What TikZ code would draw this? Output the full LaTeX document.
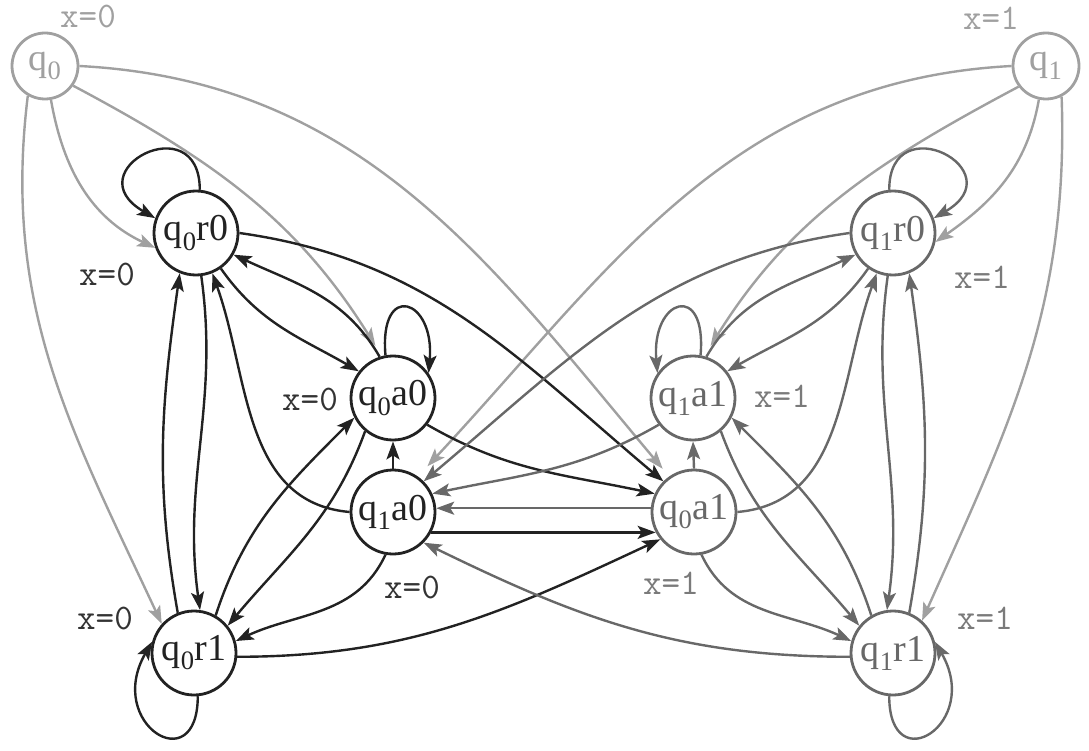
\documentclass[tikz,border=0pt]{standalone}
\usepackage{fontspec}
\usetikzlibrary{arrows.meta}
\newfontfamily\nodefont{Liberation Serif}
\definecolor{lg}{HTML}{A0A0A0}
\definecolor{dk}{HTML}{222222}
\definecolor{mg}{HTML}{686868}
\definecolor{lbl}{HTML}{333333}
\definecolor{rlbl}{HTML}{7A7A7A}
\begin{document}
\begin{tikzpicture}[x=1pt,y=1pt,
  st/.style={circle, draw, line width=2.8pt, minimum size=84pt, inner sep=0pt, font={\nodefont\fontsize{38}{40}\selectfont}},
  ini/.style={st, minimum size=66pt, draw=lg, text=lg},
  lft/.style={st, draw=dk, text=dk},
  rgt/.style={st, draw=mg, text=mg},
  arr/.style={line width=2.4pt, -{Stealth[length=18pt,width=13pt,inset=4pt]}},
  ea/.style={arr, draw=dk},
  eb/.style={arr, draw=mg},
  eg/.style={arr, draw=lg},
  lab/.style={font={\ttfamily\fontsize{36}{36}\selectfont}, inner sep=0pt}
]
\path[use as bounding box] (0,0) rectangle (1089,-751);

% nodes
\node[ini] (S0) at (45,-66) {q\textsubscript{0}};
\node[ini] (S1) at (1046,-66) {q\textsubscript{1}};
\node[lft] (A) at (196,-233) {q\textsubscript{0}r0};
\node[lft] (B) at (393,-398) {q\textsubscript{0}a0};
\node[lft] (C) at (393,-512) {q\textsubscript{1}a0};
\node[lft] (D) at (194,-653) {q\textsubscript{0}r1};
\node[rgt] (E) at (893,-233) {q\textsubscript{1}r0};
\node[rgt] (F) at (693,-398) {q\textsubscript{1}a1};
\node[rgt] (G) at (694,-512) {q\textsubscript{0}a1};
\node[rgt] (H) at (893,-653) {q\textsubscript{1}r1};

% labels
\node[lab, text=lg] (l1) at (88,-17) {x=0};
\node[lab, text=lbl] (l2) at (107,-275) {x=0};
\node[lab, text=lbl] (l3) at (310,-399) {x=0};
\node[lab, text=lbl] (l4) at (412,-587) {x=0};
\node[lab, text=lbl] (l5) at (105,-618) {x=0};
\node[lab, text=lg] (l6) at (991,-18) {x=1};
\node[lab, text=rlbl] (l7) at (982,-277) {x=1};
\node[lab, text=rlbl] (l8) at (782,-396) {x=1};
\node[lab, text=rlbl] (l9) at (671,-583) {x=1};
\node[lab, text=rlbl] (l10) at (985,-618) {x=1};

% initial edges (light gray)
\draw[eg] (S0.-80) to[out=-80,in=155] (A.200);
\draw[eg] (S0.-120) to[out=-97,in=115] (D.138);
\draw[eg, shorten >=12pt] (S0.-35) to[out=-28,in=122] (B.105);
\draw[eg, shorten >=10pt] (S0.0) to[out=-3,in=130] (G.125);
\draw[eg] (S1.-102) to[out=-100,in=35] (E.-12);
\draw[eg] (S1.-63) to[out=-88,in=66] (H.48);
\draw[eg, shorten >=12pt] (S1.-143) to[out=-152,in=58] (F.75);
\draw[eg, shorten >=14pt] (S1.180) to[out=183,in=47] (C.55);

% left side (black)
\draw[ea] (A.85) .. controls +(90:85) and +(150:95) .. (A.160);
\draw[ea] (B.100) .. controls +(95:75) and +(85:75) .. (B.35);
\draw[ea] (D.-85) .. controls +(-90:85) and +(-120:95) .. (D.165);
\draw[ea] (A.-83) to[out=-82,in=98] (D.82);
\draw[ea] (D.112) to[out=100,in=-98] (A.-112);
\draw[ea] (C.180) to[out=175,in=-70] (A.-68);
\draw[ea] (A.-55) to[out=-55,in=150] (B.142);
\draw[ea] (B.108) to[out=120,in=-25] (A.-30);
\draw[ea] (A.0) to[out=-8,in=140] (G.135);
\draw[ea] (B.-38) to[out=-30,in=168] (G.155);
\draw[ea] (C.90) -- (B.-90);
\draw[ea] (C.-28) -- (G.208);
\draw[ea] (B.-130) to[out=-110,in=50] (D.39);
\draw[ea] (D.60) to[out=72,in=-135] (B.-153);
\draw[ea] (C.-100) to[out=-115,in=25] (D.16);
\draw[ea] (D.-5) to[out=0,in=-155] (G.-141);

% right side (gray)
\draw[eb] (E.95) .. controls +(90:85) and +(30:95) .. (E.20);
\draw[eb] (F.80) .. controls +(85:75) and +(95:75) .. (F.145);
\draw[eb] (H.-95) .. controls +(-90:85) and +(-60:95) .. (H.15);
\draw[eb] (E.-97) to[out=-98,in=82] (H.98);
\draw[eb] (H.68) to[out=80,in=-82] (E.-68);
\draw[eb] (G.0) to[out=5,in=-110] (E.-112);
\draw[eb] (E.-125) to[out=-125,in=30] (F.38);
\draw[eb] (F.72) to[out=60,in=-155] (E.-150);
\draw[eb] (E.180) to[out=188,in=40] (C.45);
\draw[eb] (F.-142) to[out=-150,in=12] (C.25);
\draw[eb] (G.90) -- (F.-90);
\draw[eb] (G.175) -- (C.5);
\draw[eb] (H.120) to[out=108,in=-45] (F.-27);
\draw[eb] (F.-50) to[out=-70,in=130] (H.141);
\draw[eb] (G.-80) to[out=-65,in=155] (H.164);
\draw[eb] (H.-175) to[out=180,in=-26] (C.-45);
\end{tikzpicture}
\end{document}
